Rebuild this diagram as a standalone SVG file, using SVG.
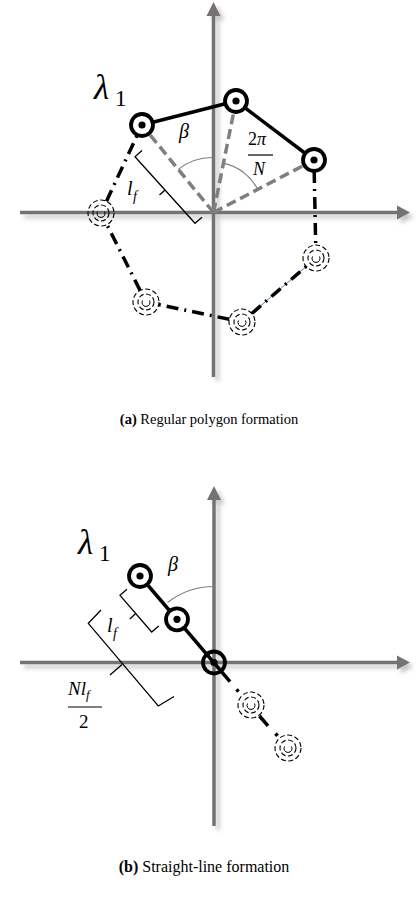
<svg xmlns="http://www.w3.org/2000/svg" width="418" height="912" viewBox="0 0 418 912">
<style>
.axis{stroke:#767272;stroke-width:3.5;fill:none}
.ah{fill:#767272}
.solid{stroke:#000;stroke-width:3.5;fill:none;stroke-linecap:butt}
.dd{stroke:#000;stroke-width:3.5;fill:none;stroke-dasharray:12 6 2 6}
.gd{stroke:#7f7f7f;stroke-width:3.5;fill:none;stroke-dasharray:10 5}
.arc{stroke:#7f7f7f;stroke-width:1.2;fill:none}
.br{stroke:#000;stroke-width:1.3;fill:none}
.ring{stroke:#000;stroke-width:3.8;fill:#fff}
.dot{fill:#000}
.gh{stroke:#000;stroke-width:1.1;fill:none;stroke-dasharray:5 2.5}
.m{font-family:"Liberation Serif","DejaVu Serif",serif;font-style:italic;fill:#000}
.n{font-family:"Liberation Serif","DejaVu Serif",serif;fill:#000}
.cap{font-family:"Liberation Serif","Times New Roman",serif;fill:#000}
</style>
<defs>
<filter id="sh" x="-20%" y="-20%" width="140%" height="140%">
<feDropShadow dx="4" dy="4" stdDeviation="2" flood-color="#000" flood-opacity="0.22"/>
</filter>
<g id="ghost">
<circle r="13" class="gh"/>
<circle r="8" class="gh"/>
<path d="M-3.5,-1.5 A4,4 0 1 0 3.5,-1.5" stroke="#000" stroke-width="1" fill="none"/>
</g>
</defs>

<!-- axes (a) -->
<g id="axes-a" filter="url(#sh)">
<line class="axis" x1="20" y1="212.5" x2="398" y2="212.5"/>
<polygon class="ah" points="410,212.5 397,205.5 397,219.5"/>
<line class="axis" x1="213.5" y1="377" x2="213.5" y2="14"/>
<polygon class="ah" points="213.5,2 206.5,16 220.5,16"/>
</g>

<!-- axes (b) -->
<g id="axes-b" filter="url(#sh)">
<line class="axis" x1="20" y1="662.5" x2="398" y2="662.5"/>
<polygon class="ah" points="410,662.5 397,655.5 397,669.5"/>
<line class="axis" x1="214" y1="826" x2="214" y2="498"/>
<polygon class="ah" points="214,486 207,500 221,500"/>
</g>

<g id="connectors">
<!-- (a) gray dashed radii -->
<line class="gd" x1="213.5" y1="212.5" x2="142" y2="125"/>
<line class="gd" x1="213.5" y1="212.5" x2="236" y2="101"/>
<line class="gd" x1="213.5" y1="212.5" x2="314" y2="160"/>
<!-- angle arcs -->
<path class="arc" d="M178.2,169.4 A55,55 0 0 1 213.5,157.5"/>
<path class="arc" d="M223.1,163.1 A50,50 0 0 1 257.5,189.1"/>
<!-- solid edges -->
<line class="solid" x1="142" y1="125" x2="236" y2="101"/>
<line class="solid" x1="236" y1="101" x2="314" y2="160"/>
<!-- dash-dot edges -->
<line class="dd" x1="314.2" y1="171" x2="315.7" y2="245"/>
<line x1="306.2" y1="266.5" x2="251.8" y2="313.5" stroke="#4f81bd" stroke-width="1"/>
<line class="dd" x1="251.8" y1="313.5" x2="306.2" y2="266.5"/>
<line class="dd" x1="229.3" y1="319.3" x2="158.7" y2="304.6"/>
<line class="dd" x1="140.1" y1="290.4" x2="106.9" y2="224.6"/>
<line class="dd" x1="106.5" y1="201.2" x2="137.3" y2="135"/>
<!-- bracket l_f (a) -->
<path class="br" d="M142,150.5 L135,156.7 L195,223.3 L202,217.3"/>
<path class="br" d="M165,190 L159.5,195"/>

<!-- (b) -->
<path class="arc" d="M167.5,602.5 A76,76 0 0 1 214,586.5"/>
<line class="solid" x1="140" y1="576" x2="230" y2="681.7"/>
<line class="solid" x1="236.5" y1="689.3" x2="238.5" y2="691.6"/>
<line class="solid" x1="259.5" y1="716" x2="268" y2="725.8"/>
<line class="solid" x1="275.5" y1="733.5" x2="277.5" y2="735.8"/>
<!-- small bracket -->
<path class="br" d="M127,589.3 L120,595.3 L151.7,632 L158.7,626"/>
<path class="br" d="M135.8,613.6 L129.8,619"/>
<!-- big bracket -->
<path class="br" d="M101,610 L88.3,623.3 L158.3,706 L174,696.5"/>
<path class="br" d="M122,664.5 L110,675"/>
</g>

<!-- nodes (a) -->
<g id="a-lambda1"><circle class="ring" cx="142" cy="125" r="11"/><circle class="dot" cx="142" cy="125" r="3.6"/></g>
<g id="a-top"><circle class="ring" cx="236" cy="101" r="11"/><circle class="dot" cx="236" cy="101" r="3.6"/></g>
<g id="a-right"><circle class="ring" cx="314" cy="160" r="11"/><circle class="dot" cx="314" cy="160" r="3.6"/></g>
<g id="a-ghost-right"><use href="#ghost" x="316" y="258"/></g>
<g id="a-ghost-bottom"><use href="#ghost" x="242" y="322"/></g>
<g id="a-ghost-bottomleft"><use href="#ghost" x="146" y="302"/></g>
<g id="a-ghost-left"><use href="#ghost" x="101" y="213"/></g>

<!-- nodes (b) -->
<g id="b-lambda1"><circle class="ring" cx="140" cy="576" r="11"/><circle class="dot" cx="140" cy="576" r="3.6"/></g>
<g id="b-second"><circle class="ring" cx="177" cy="619.3" r="11"/><circle class="dot" cx="177" cy="619.3" r="3.6"/></g>
<g id="b-origin"><circle class="ring" cx="214" cy="662.5" r="11" fill-opacity="0"/><circle class="dot" cx="214" cy="662.5" r="3.6"/></g>
<g id="b-ghost1"><use href="#ghost" x="251" y="705"/></g>
<g id="b-ghost2"><use href="#ghost" x="288" y="748"/></g>

<!-- labels (a) -->
<g id="a-labels">
<text class="m" x="94" y="99" font-size="35">λ</text>
<text class="n" x="115" y="106" font-size="23">1</text>
<text class="m" x="179" y="138" font-size="20">β</text>
<text class="n" x="248" y="145" font-size="18">2<tspan class="m">π</tspan></text>
<line x1="248" y1="155" x2="273" y2="155" stroke="#000" stroke-width="1.2"/>
<text class="m" x="253" y="175" font-size="18">N</text>
<text class="m" x="127" y="195" font-size="20">l</text>
<text class="m" x="133" y="201" font-size="14">f</text>
<text class="cap" x="209" y="424" font-size="14.5" text-anchor="middle"><tspan font-weight="bold">(a)</tspan> Regular polygon formation</text>
</g>

<!-- labels (b) -->
<g id="b-labels">
<text class="m" x="78" y="554" font-size="35">λ</text>
<text class="n" x="99" y="561" font-size="23">1</text>
<text class="m" x="168" y="571" font-size="20">β</text>
<text class="m" x="107" y="632" font-size="20">l</text>
<text class="m" x="113" y="638" font-size="14">f</text>
<text class="m" x="68" y="695" font-size="19">N<tspan>l</tspan><tspan font-size="13" dy="4">f</tspan></text>
<line x1="68" y1="707" x2="102" y2="707" stroke="#000" stroke-width="1.2"/>
<text class="n" x="79" y="728" font-size="19">2</text>
<text class="cap" x="204" y="872" font-size="16" text-anchor="middle"><tspan font-weight="bold">(b)</tspan> Straight-line formation</text>
</g>
</svg>
